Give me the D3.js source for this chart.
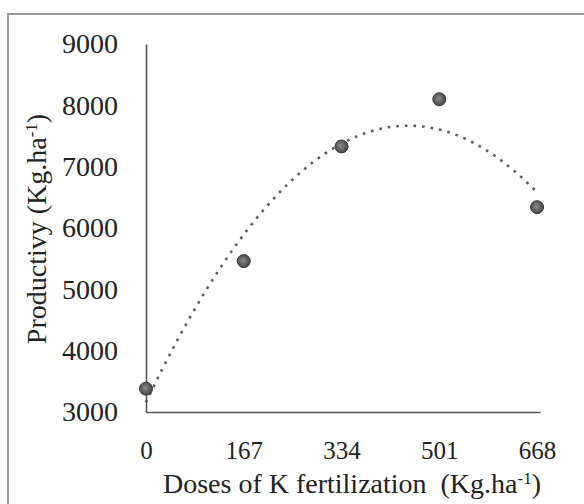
<!DOCTYPE html>
<html>
<head>
<meta charset="utf-8">
<script src="https://cdn.jsdelivr.net/npm/d3@7"></script>
</head>
<body style="margin:0;background:#fff">
<div id="chart"></div>
<script>
// --- data ---
const doses = [0, 167, 334, 501, 668];
const productivity = [3380, 5460, 7330, 8100, 6340];
const yTicks = [3000, 4000, 5000, 6000, 7000, 8000, 9000];

const width = 584, height = 504;
const FONT = "'Liberation Serif', Tinos, 'Times New Roman', serif";

const svg = d3.select("#chart").append("svg")
    .attr("width", width)
    .attr("height", height)
    .style("font-family", FONT, "important");

// outer frame (runs off the right and bottom edges)
svg.append("rect")
    .attr("x", 8).attr("y", 14)
    .attr("width", 620).attr("height", 540)
    .attr("fill", "none")
    .attr("stroke", "#9a9a9a")
    .attr("stroke-width", 2);

const x = d3.scaleLinear().domain([0, 673]).range([146, 540]);
const y = d3.scaleLinear().domain([3000, 9000]).range([412, 44]);

function serifText(sel, size) {
    sel.attr("font-family", FONT).style("font-family", FONT, "important")
        .attr("font-size", size).style("font-size", size + "px")
        .attr("fill", "#222");
}

// axes
const yAxis = svg.append("g")
    .attr("transform", `translate(${x(0)},0)`)
    .call(d3.axisLeft(y).tickValues(yTicks).tickSize(0).tickPadding(28).tickFormat(d3.format("d")))
    .attr("font-family", FONT);
yAxis.select(".domain").attr("stroke", "#555").attr("stroke-width", 1.6);
serifText(yAxis.selectAll("text"), 28);

const xAxis = svg.append("g")
    .attr("transform", `translate(0,${y(3000)})`)
    .call(d3.axisBottom(x).tickValues(doses).tickSize(0).tickPadding(29).tickFormat(d3.format("d")))
    .attr("font-family", FONT);
xAxis.select(".domain").attr("stroke", "#555").attr("stroke-width", 1.6);
serifText(xAxis.selectAll("text"), 25);

// --- polynomial (order 2) trendline by least squares ---
function quadFit(xs, ys) {
    let s = [0, 0, 0, 0, 0], t = [0, 0, 0];
    xs.forEach((xv, i) => {
        for (let k = 0; k < 5; k++) s[k] += Math.pow(xv, k);
        for (let k = 0; k < 3; k++) t[k] += Math.pow(xv, k) * ys[i];
    });
    // solve 3x3 normal equations
    const A = [[s[0], s[1], s[2], t[0]], [s[1], s[2], s[3], t[1]], [s[2], s[3], s[4], t[2]]];
    for (let c = 0; c < 3; c++) {
        for (let r = c + 1; r < 3; r++) {
            const f = A[r][c] / A[c][c];
            for (let k = c; k < 4; k++) A[r][k] -= f * A[c][k];
        }
    }
    const b = [0, 0, 0];
    for (let r = 2; r >= 0; r--) {
        let v = A[r][3];
        for (let k = r + 1; k < 3; k++) v -= A[r][k] * b[k];
        b[r] = v / A[r][r];
    }
    return xv => b[0] + b[1] * xv + b[2] * xv * xv;
}

const trend = quadFit(doses, productivity);
const trendPts = d3.range(0, 669, 4).map(d => [d, trend(d)]);

svg.append("path")
    .datum(trendPts)
    .attr("fill", "none")
    .attr("stroke", "#5a5a5a")
    .attr("stroke-width", 2.6)
    .attr("stroke-dasharray", "2.6,6")
    .attr("d", d3.line().x(d => x(d[0])).y(d => y(d[1])));

// markers
const grad = svg.append("defs").append("radialGradient")
    .attr("id", "dot").attr("cx", "45%").attr("cy", "45%").attr("r", "60%");
grad.append("stop").attr("offset", "0%").attr("stop-color", "#8a8a8a");
grad.append("stop").attr("offset", "100%").attr("stop-color", "#3e3e3e");

svg.selectAll(".pt")
    .data(doses.map((d, i) => [d, productivity[i]]))
    .enter().append("circle")
    .attr("class", "pt")
    .attr("cx", d => x(d[0]))
    .attr("cy", d => y(d[1]))
    .attr("r", 6.5)
    .attr("fill", "url(#dot)")
    .attr("stroke", "#3a3a3a")
    .attr("stroke-width", 1);

// axis titles
const yLab = svg.append("text")
    .attr("transform", "translate(46,229) rotate(-90)")
    .attr("text-anchor", "middle")
    .call(serifText, 28);
yLab.append("tspan").text("Productivy (Kg.ha");
yLab.append("tspan").attr("baseline-shift", "super").style("font-size", "17px").text("-1");
yLab.append("tspan").text(")");

const xLab = svg.append("text")
    .attr("x", 352).attr("y", 493)
    .attr("text-anchor", "middle")
    .call(serifText, 28);
xLab.append("tspan").text("Doses of K fertilization\u00a0 (Kg.ha");
xLab.append("tspan").attr("baseline-shift", "super").style("font-size", "17px").text("-1");
xLab.append("tspan").text(")");
</script>
</body>
</html>
